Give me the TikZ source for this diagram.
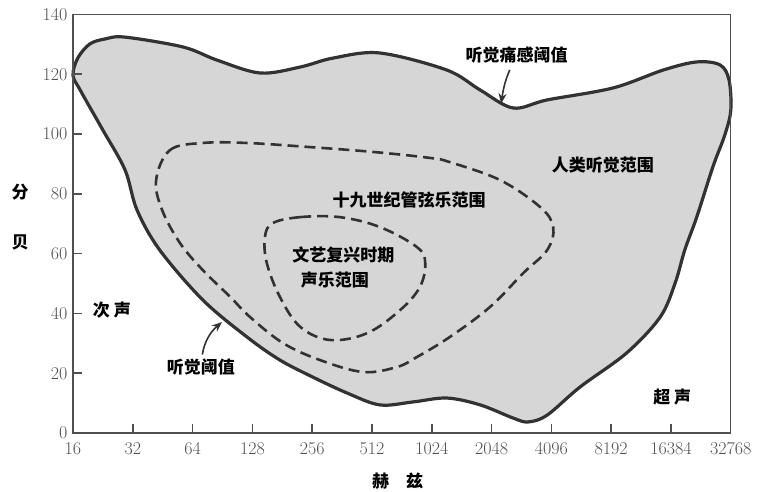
\documentclass[tikz,border=0pt]{standalone}
\usepackage{fontspec}
\usetikzlibrary{positioning,arrows.meta}
\newfontfamily\cjk{Noto Sans CJK SC}
\definecolor{rim}{RGB}{50,50,50}
\definecolor{area}{RGB}{214,214,214}
\definecolor{ax}{RGB}{80,80,80}
\tikzstyle{ol}=[draw=rim, line width=3.2pt, fill=area]
\tikzstyle{rng}=[draw=rim, line width=2.6pt, dash pattern=on 11pt off 6pt]
\tikzstyle{lb}=[font=\cjk\bfseries\fontsize{17}{20}\selectfont, inner sep=0]
\tikzstyle{num}=[font=\fontsize{18}{20}\selectfont, text=ax, inner sep=0]
\tikzstyle{pt}=[draw=rim, line width=1.6pt, -{Stealth[length=10pt,width=8pt]}]
\tikzstyle{tk}=[draw=ax, line width=1.6pt]

\begin{document}
\begin{tikzpicture}[x=59.8pt, y=2.99pt]
    \useasboundingbox (-1.2207,-19.398) rectangle (11.505,144.816);
    \draw[ol] plot[smooth cycle, tension=0.55] coordinates {
        (0.00,119.7) (0.08,125.4) (0.28,130.1) (0.54,131.8) (0.87,132.4)
        (1.84,129.1) (2.41,124.7) (3.13,120.4) (3.80,122.4) (4.35,125.4)
        (5.13,127.1) (6.25,121.4) (6.81,114.7) (7.36,108.7) (7.93,111.4)
        (9.03,115.4) (9.87,121.4) (10.43,124.1) (10.82,123.1) (10.97,118.1)
        (11.0,108) (10.90,99.7) (10.70,89.0) (10.43,72.2) (10.23,61.2)
        (10.07,50.2) (9.82,38.8) (9.26,26.8) (8.48,15.4) (7.93,6.0)
        (7.61,3.7) (7.36,5.0) (6.81,9.4) (6.25,11.7) (5.69,10.4)
        (5.13,9.4) (4.58,13.4) (4.01,18.7) (3.46,24.4) (2.91,32.1)
        (2.17,44.5) (1.45,61.2) (1.07,74.6) (0.87,88.0) (0.50,101.3)
        (0.12,114.7)};
    \draw[rng] plot[smooth cycle, tension=0.6] coordinates {
        (1.39,84.6) (1.62,94.6) (2.17,97.0) (2.91,97.0) (3.91,95.7)
        (5.02,94.0) (5.97,92.0) (6.30,90.6) (7.14,84.6) (7.81,75.6)
        (8.03,68.9) (7.93,61.2) (7.53,53.5) (6.97,42.1) (6.30,32.1)
        (5.75,25.4) (5.42,22.1) (4.85,20.4) (4.13,24.4) (3.51,30.1)
        (2.96,38.8) (2.63,45.5) (2.17,54.5) (1.79,63.5) (1.49,74.6)};
    \draw[rng] plot[smooth cycle, tension=0.6] coordinates {
        (3.34,70.2) (3.80,72.2) (4.46,72.2) (5.13,68.9) (5.75,62.2)
        (5.89,56.9) (5.80,48.8) (5.47,41.1) (4.92,33.4) (4.30,31.1)
        (3.80,35.5) (3.46,45.5) (3.24,56.9) (3.21,65.6)};
    \draw[ax, line width=1.2pt] (0,140) -- (11,140) -- (11,0);
    \draw[ax, line width=2pt] (0,140) -- (0,0) -- (11,0);
    \foreach \d in {20,40,...,120} \draw[tk] (0,\d) -- (0.15,\d);
    \foreach \i in {1,...,10} \draw[tk] (\i,0) -- (\i,3);
    \foreach \d in {0,20,...,140} \node[num, anchor=east] (yl\d) at (-0.09,\d) {\d};
    \foreach \f [count=\i from 0] in {16,32,64,128,256,512,1024,2048,4096,8192,16384,32768}
        \node[num] (xl\i) at (\i,-5.35) {\f};
    \node[lb] (pain) at (7.42,126.4) {听觉痛感阈值};
    \node[lb] (human) at (8.86,89.6) {人类听觉范围};
    \node[lb] (orch) at (5.62,77.9) {十九世纪管弦乐范围};
    \node[lb] (voc) at (4.52,59.5) {文艺复兴时期};
    \node[lb] (vocb) at (4.38,51.2) {声乐范围};
    \node[lb] (infra) at (0.65,41.1) {次 声};
    \node[lb] (thr) at (2.14,22.1) {听觉阈值};
    \node[lb] (ultra) at (10.02,12.0) {超 声};
    \node[lb] (dba) at (-0.886,80.6) {分};
    \node[lb] (dbb) at (-0.886,63.9) {贝};
    \node[lb] (hz) at (5.43,-16.2) {赫\quad 兹};
    \coordinate (painpt) at (7.16,110.2);
    \coordinate (thrpt) at (2.49,37.1);
    \draw[pt, shorten <=7pt] (pain) to[bend right=8] (painpt);
    \draw[pt, shorten <=4pt] (thr) to[bend left=20] (thrpt);
\end{tikzpicture}
\end{document}
